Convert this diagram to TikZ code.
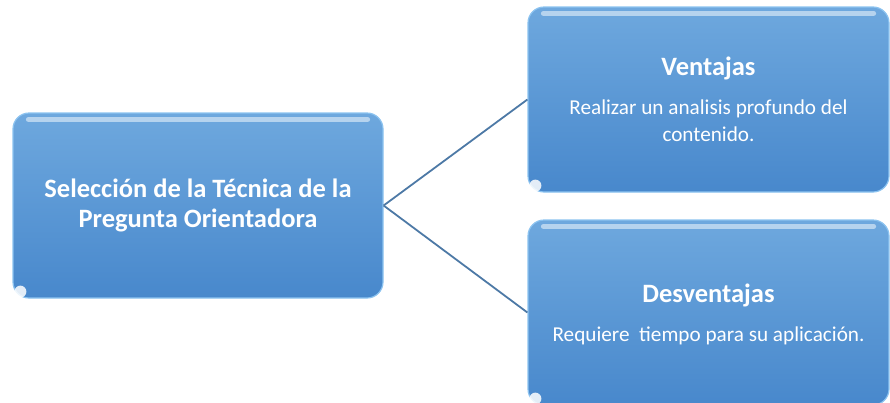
\documentclass[tikz,border=0pt]{standalone}
\usepackage{fontspec}
\setmainfont{Carlito}
\definecolor{boxtop}{RGB}{110,168,222}
\definecolor{boxbot}{RGB}{72,136,204}
\definecolor{boxedge}{RGB}{140,195,240}
\definecolor{linkcol}{RGB}{77,121,166}
\tikzset{
  bluebox/.style={rectangle, rounded corners=16pt, top color=boxtop, bottom color=boxbot,
    draw=boxedge, line width=1.2pt, text=white, align=center, inner sep=0pt,
    font=\fontsize{21.2}{27}\selectfont},
  link/.style={draw=linkcol, line width=1.8pt},
  shine/.style={white, opacity=0.5, line width=5pt, line cap=round},
  blob/.style={white, opacity=0.85}
}
\begin{document}
\begin{tikzpicture}[x=1pt,y=-1pt]
\useasboundingbox (0,0) rectangle (890,402);
\node[bluebox, minimum width=370pt, minimum height=185pt] (sel) at (198,205.5)
  {\bfseries\fontsize{26.5}{29}\selectfont Selección de la Técnica de la\\[3pt]\bfseries\fontsize{26.5}{29}\selectfont Pregunta Orientadora};
\node[bluebox, minimum width=361pt, minimum height=185pt, text depth=0pt] (ven) at (708.5,99.5)
  {{\bfseries\fontsize{26.5}{29}\selectfont Ventajas}\\[12pt] Realizar un analisis profundo del\\ contenido.};
\node[bluebox, minimum width=361pt, minimum height=185pt, text depth=0pt] (des) at (708.5,312.5)
  {{\bfseries\fontsize{26.5}{29}\selectfont Desventajas}\\[12pt] Requiere\ \ tiempo para su aplicación.};
\foreach \n in {sel,ven,des}{
  \draw[shine] ([xshift=16pt,yshift=-7pt]\n.north west) -- ([xshift=-16pt,yshift=-7pt]\n.north east);
  \fill[blob] ([xshift=8pt,yshift=7pt]\n.south west) circle (6pt);
}
\draw[link] (sel.east) -- (ven.west);
\draw[link] (sel.east) -- (des.west);
\end{tikzpicture}
\end{document}
